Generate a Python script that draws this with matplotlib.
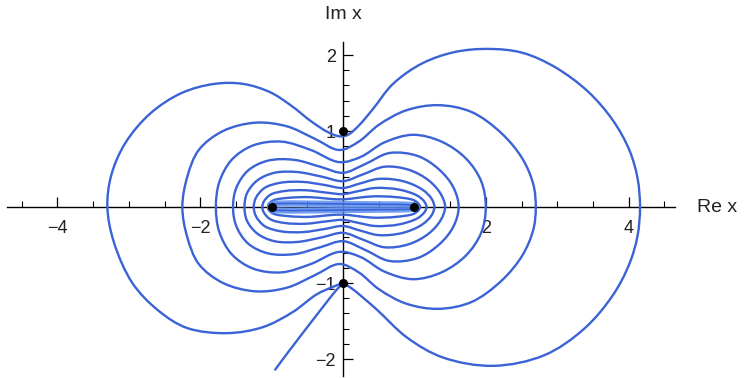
import numpy as np
import matplotlib
matplotlib.use("Agg")
import matplotlib.pyplot as plt
from matplotlib.path import Path
from matplotlib.patches import PathPatch
from matplotlib.ticker import FixedLocator

plt.rcParams['font.family'] = ['Liberation Sans', 'DejaVu Sans']

# Outer level curve (open at -i, with a tail leaving -i)
outer_x = [0.0, -0.14, -0.37, -0.70, -1.12, -1.63, -2.19, -2.59, -2.95, -3.21, -3.30,
           -3.245, -3.05, -2.70, -2.26, -1.80, -1.40, -1.02, -0.72, -0.45, -0.22, -0.05,
           0.07, 0.22, 0.42, 0.70, 1.11, 1.57, 2.04, 2.51, 2.97, 3.43, 3.78, 4.01, 4.125,
           4.16, 4.125, 4.01, 3.78, 3.38, 2.82, 2.10, 1.40, 0.90, 0.45, 0.12, 0.0]
outer_y = [-1.0, -1.05, -1.15, -1.38, -1.58, -1.66, -1.59, -1.36, -1.0, -0.46, 0.0,
           0.42, 0.84, 1.23, 1.50, 1.62, 1.62, 1.51, 1.33, 1.13, 0.99, 0.93,
           0.95, 1.07, 1.29, 1.62, 1.89, 2.04, 2.08, 2.03, 1.84, 1.52, 1.14, 0.75, 0.38,
           0.0, -0.38, -0.75, -1.16, -1.60, -1.95, -2.09, -1.98, -1.72, -1.33, -1.07, -1.0]

tail_x = [0.0, -0.10, -0.26, -0.45, -0.63, -0.80, -0.95]
tail_y = [-1.0, -1.10, -1.29, -1.52, -1.74, -1.95, -2.14]

# Closed level curves, upper halves (left crossing -> right crossing), mirrored below
c2_x = [-2.25, -2.18, -2.02, -1.68, -1.22, -0.78, -0.40, -0.05, 0.22, 0.50, 0.88, 1.33, 1.80, 2.22, 2.51, 2.665, 2.70]
c2_y = [0.0, 0.40, 0.75, 1.00, 1.11, 1.06, 0.90, 0.75, 0.86, 1.08, 1.27, 1.34, 1.25, 0.97, 0.64, 0.30, 0.0]

c3_x = [-1.78, -1.735, -1.56, -1.26, -0.86, -0.45, -0.05, 0.25, 0.58, 0.98, 1.38, 1.72, 1.935, 2.00]
c3_y = [0.0, 0.32, 0.62, 0.81, 0.86, 0.75, 0.59, 0.66, 0.85, 0.95, 0.86, 0.64, 0.34, 0.0]

c4_x = [-1.54, -1.495, -1.33, -1.05, -0.68, -0.32, 0.0, 0.30, 0.65, 1.05, 1.35, 1.545, 1.62]
c4_y = [0.0, 0.25, 0.48, 0.61, 0.62, 0.53, 0.45, 0.56, 0.71, 0.67, 0.49, 0.26, 0.0]

c5_x = [-1.38, -1.345, -1.20, -0.96, -0.64, -0.30, 0.0, 0.28, 0.58, 0.92, 1.20, 1.37, 1.43]
c5_y = [0.0, 0.18, 0.35, 0.45, 0.46, 0.40, 0.34, 0.43, 0.53, 0.49, 0.35, 0.17, 0.0]

c6_x = [-1.25, -1.22, -1.10, -0.87, -0.56, -0.26, 0.0, 0.24, 0.50, 0.84, 1.11, 1.24, 1.28]
c6_y = [0.0, 0.12, 0.25, 0.32, 0.33, 0.29, 0.25, 0.31, 0.37, 0.34, 0.23, 0.11, 0.0]

c7_x = [-1.13, -1.11, -1.02, -0.82, -0.52, -0.24, 0.0, 0.22, 0.45, 0.78, 1.04, 1.14, 1.17]
c7_y = [0.0, 0.07, 0.16, 0.21, 0.22, 0.19, 0.17, 0.21, 0.25, 0.23, 0.15, 0.07, 0.0]

c8_x = [-1.05, -1.04, -0.97, -0.77, -0.47, -0.22, 0.0, 0.20, 0.42, 0.74, 0.99, 1.06, 1.08]
c8_y = [0.0, 0.04, 0.09, 0.12, 0.13, 0.11, 0.10, 0.12, 0.14, 0.13, 0.09, 0.04, 0.0]

band_x = [-1.02, -1.0, -0.9, -0.5, 0.0, 0.5, 0.9, 1.0, 1.03]
band_y = [0.0, 0.035, 0.045, 0.045, 0.04, 0.035, 0.03, 0.02, 0.0]

# Marked points
pts_x = [0.0, 0.0, -1.0, 1.0]
pts_y = [1.0, -1.0, 0.0, 0.0]

x_ticks_major = [-4, -2, 2, 4]
y_ticks_major = [-2, -1, 1, 2]

BLUE = '#3b62d6'

# pixel scale of the axes (x and y differ), used for the spline parameter
SX, SY = 71.4, 76.0


def smooth_path(xs, ys, closed=False, alpha=0.5):
    """Centripetal Catmull-Rom through the points, as cubic Bezier path codes."""
    P = np.column_stack([xs, ys]).astype(float)
    n = len(P)
    if closed:
        ext = np.vstack([P[-1], P, P[0], P[1]])
        segs = n
    else:
        ext = np.vstack([2 * P[0] - P[1], P, 2 * P[-1] - P[-2]])
        segs = n - 1
    scale = np.array([SX, SY])

    def dist(a, b):
        return max(np.linalg.norm((b - a) * scale), 1e-6) ** alpha

    verts = [ext[1]]
    codes = [Path.MOVETO]
    for i in range(1, segs + 1):
        p0, p1, p2, p3 = ext[i - 1], ext[i], ext[i + 1], ext[i + 2]
        d1, d2, d3 = dist(p0, p1), dist(p1, p2), dist(p2, p3)
        b1 = (d1 ** 2 * p2 - d2 ** 2 * p0 + (2 * d1 ** 2 + 3 * d1 * d2 + d2 ** 2) * p1) / (3 * d1 * (d1 + d2))
        b2 = (d3 ** 2 * p1 - d2 ** 2 * p3 + (2 * d3 ** 2 + 3 * d3 * d2 + d2 ** 2) * p2) / (3 * d3 * (d3 + d2))
        verts += [b1, b2, p2]
        codes += [Path.CURVE4] * 3
    return Path(verts, codes)


def closed_from_half(xs, ys):
    lo_x = [x for x in reversed(xs[1:-1])]
    lo_y = [-y for y in reversed(ys[1:-1])]
    return list(xs) + lo_x, list(ys) + lo_y


fig = plt.figure(figsize=(7.44, 3.78), dpi=100)
ax = fig.add_axes([0, 0, 1, 1])
ax.set_xlim(-343 / SX, 401 / SX)
ax.set_ylim((207 - 378) / SY, 207 / SY)

lw = 1.7

ax.add_patch(PathPatch(smooth_path(outer_x, outer_y), fill=False, ec=BLUE, lw=lw,
                       capstyle='round', joinstyle='round', zorder=3))
ax.add_patch(PathPatch(smooth_path(tail_x, tail_y), fill=False, ec=BLUE, lw=lw,
                       capstyle='round', zorder=3))

for cx, cy in [(c2_x, c2_y), (c3_x, c3_y), (c4_x, c4_y), (c5_x, c5_y),
               (c6_x, c6_y), (c7_x, c7_y), (c8_x, c8_y)]:
    lx, ly = closed_from_half(cx, cy)
    ax.add_patch(PathPatch(smooth_path(lx, ly, closed=True), fill=False, ec=BLUE,
                           lw=lw, joinstyle='round', zorder=3))

bx, by = closed_from_half(band_x, band_y)
ax.add_patch(PathPatch(smooth_path(bx, by, closed=True), fill=False, ec='#5a8ff0',
                       lw=4.5, alpha=0.85, joinstyle='round', zorder=3))
ax.add_patch(PathPatch(smooth_path(bx, by, closed=True), fill=False, ec=BLUE,
                       lw=1.2, joinstyle='round', zorder=3))

ax.plot(pts_x, pts_y, 'o', color='black', ms=5.5, zorder=5, clip_on=False)

# Axes crossing at the origin
for side in ['top', 'right']:
    ax.spines[side].set_visible(False)
ax.spines['left'].set_position(('data', 0))
ax.spines['bottom'].set_position(('data', 0))
ax.spines['left'].set_bounds(-2.22, 2.17)
ax.spines['bottom'].set_bounds(-4.70, 4.65)
for side in ['left', 'bottom']:
    ax.spines[side].set_linewidth(1.0)
    ax.spines[side].set_color('black')
    ax.spines[side].set_zorder(2)

ax.xaxis.set_major_locator(FixedLocator(x_ticks_major))
ax.xaxis.set_minor_locator(FixedLocator([v for v in np.arange(-4.5, 4.6, 0.5)
                                         if abs(v) > 1e-9 and v not in x_ticks_major]))
ax.yaxis.set_major_locator(FixedLocator(y_ticks_major))
ax.yaxis.set_minor_locator(FixedLocator([round(v, 1) for v in np.arange(-2.0, 2.01, 0.2)
                                         if abs(v) > 1e-9 and round(v, 1) not in y_ticks_major]))

ax.tick_params(which='major', direction='in', length=7, width=0.9, colors='black',
               labelsize=13, labelcolor='#222222')
ax.tick_params(which='minor', direction='in', length=4, width=0.8, colors='black')
ax.tick_params(axis='x', pad=9)
ax.tick_params(axis='y', pad=5)
ax.set_xticklabels(['\u22124', '\u22122', '2', '4'])
ax.set_yticklabels(['\u22122', '\u22121', '1', '2'])

ax.text(4.96, 0.0, 'Re x', ha='left', va='center', fontsize=14, color='#222222')
ax.text(0.0, 2.53, 'Im x', ha='center', va='center', fontsize=14, color='#222222')

fig.savefig('out.png', dpi=100)
